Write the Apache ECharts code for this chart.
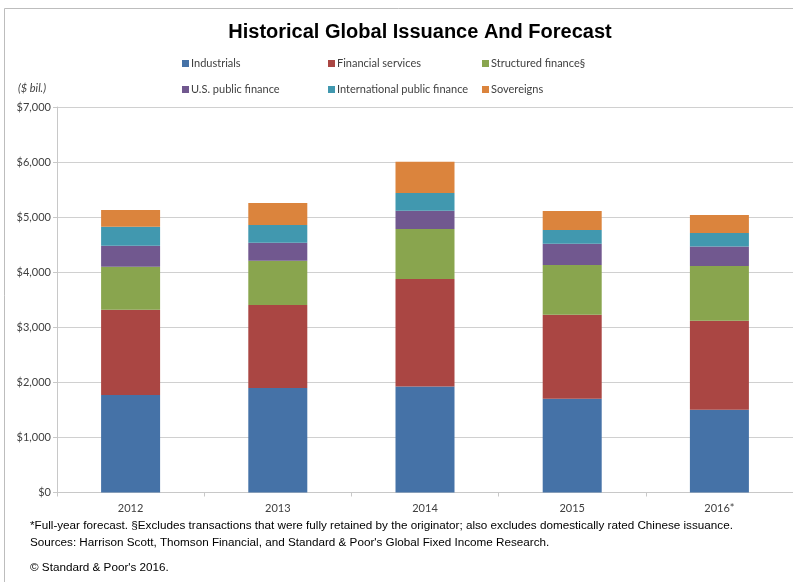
<!DOCTYPE html>
<html>
<head>
<meta charset="utf-8">
<script src="https://cdn.jsdelivr.net/npm/echarts@6/dist/echarts.min.js"></script>
<style>
  html, body { margin: 0; padding: 0; background: #fff; overflow: hidden; }
  #chart { width: 793px; height: 582px; }
</style>
</head>
<body>
<div id="chart"></div>
<script>
// Years shown on the category axis
const years = ['2012', '2013', '2014', '2015', '2016*'];

// Issuance by sector, $ billions
const industrials     = [1769, 1896, 1925, 1702, 1502];
const financial       = [1550, 1508, 1951, 1525, 1616];
const structured      = [780, 804, 908, 903, 994];
const usPublic        = [381, 327, 332, 387, 356];
const intlPublic      = [345, 322, 322, 249, 243];
const sovereigns      = [304, 399, 568, 345, 327];

const seriesNames = ['Industrials', 'Financial services', 'Structured finance§',
                     'U.S. public finance', 'International public finance', 'Sovereigns'];
const seriesData = [industrials, financial, structured, usPublic, intlPublic, sovereigns];
const colors = ['#4572A7', '#AA4643', '#89A54E', '#71588F', '#4198AF', '#DB843D'];

const yTicks = [0, 1000, 2000, 3000, 4000, 5000, 6000, 7000];

const labelFont = 'Lato, "Open Sans", sans-serif';
const noteFont = '"Liberation Sans Narrow", "Liberation Sans", Arial, sans-serif';

// Legend laid out as two rows of three fixed columns
const legendCols = [182, 328, 482];
const legendRows = [58, 84];
const legends = seriesNames.map((name, i) => ({
  data: [name],
  left: legendCols[i % 3],
  top: legendRows[Math.floor(i / 3)],
  itemWidth: 7,
  itemHeight: 7,
  itemGap: 0,
  padding: 0,
  icon: 'rect',
  selectedMode: false,
  textStyle: { fontFamily: labelFont, fontSize: 11, color: '#404040', padding: [0, 0, 0, -3] }
}));

const chart = echarts.init(document.getElementById('chart'), null, { renderer: 'canvas' });

// Frame: only the left and top edges fall inside the canvas
const frameColor = '#BDBDBD';

chart.setOption({
  animation: false,
  color: colors,
  title: {
    text: 'Historical Global Issuance And Forecast',
    left: 415,
    textAlign: 'center',
    top: 17,
    textStyle: { fontFamily: noteFont, fontWeight: 'bold', fontSize: 20, color: '#000' }
  },
  legend: legends,
  grid: { left: 57, top: 107, width: 738, height: 385.5, containLabel: false },
  xAxis: {
    type: 'category',
    data: years,
    axisLine: { lineStyle: { color: '#C8C8C8', width: 1 } },
    axisTick: { show: true, length: 4, lineStyle: { color: '#C8C8C8' } },
    axisLabel: { fontFamily: labelFont, fontSize: 11, color: '#404040', margin: 10 }
  },
  yAxis: {
    type: 'value',
    min: yTicks[0],
    max: yTicks[yTicks.length - 1],
    interval: 1000,
    axisLine: { show: true, lineStyle: { color: '#C8C8C8', width: 1 } },
    axisTick: { show: true, length: 4, lineStyle: { color: '#C8C8C8' } },
    splitLine: { lineStyle: { color: '#D0D0D0', width: 1 } },
    axisLabel: {
      fontFamily: labelFont, fontSize: 11, color: '#404040', margin: 6,
      formatter: v => '$' + v.toLocaleString('en-US')
    }
  },
  series: seriesNames.map((name, i) => ({
    name,
    type: 'bar',
    stack: 'total',
    barWidth: 59,
    data: seriesData[i],
    itemStyle: { color: colors[i] }
  })),
  graphic: [
    {
      type: 'line', silent: true,
      shape: { x1: 4.5, y1: 8.5, x2: 793, y2: 8.5 },
      style: { stroke: frameColor, lineWidth: 1 }
    },
    {
      type: 'line', silent: true,
      shape: { x1: 4.5, y1: 8.5, x2: 4.5, y2: 582 },
      style: { stroke: frameColor, lineWidth: 1 }
    },
    {
      type: 'text', left: 18, top: 83,
      style: { text: '($ bil.)', fontFamily: labelFont, fontStyle: 'italic', fontSize: 11, fill: '#404040' }
    },
    {
      type: 'text', left: 30, top: 517,
      style: {
        text: '*Full-year forecast. §Excludes transactions that were fully retained by the originator; also excludes domestically rated Chinese issuance.\nSources: Harrison Scott, Thomson Financial, and Standard & Poor\'s Global Fixed Income Research.',
        fontFamily: noteFont, fontSize: 11.7, lineHeight: 17, fill: '#000'
      }
    },
    {
      type: 'text', left: 30, top: 562,
      style: { text: '© Standard & Poor\'s 2016.', fontFamily: noteFont, fontSize: 11.7, fill: '#000' }
    }
  ]
});
</script>
</body>
</html>
